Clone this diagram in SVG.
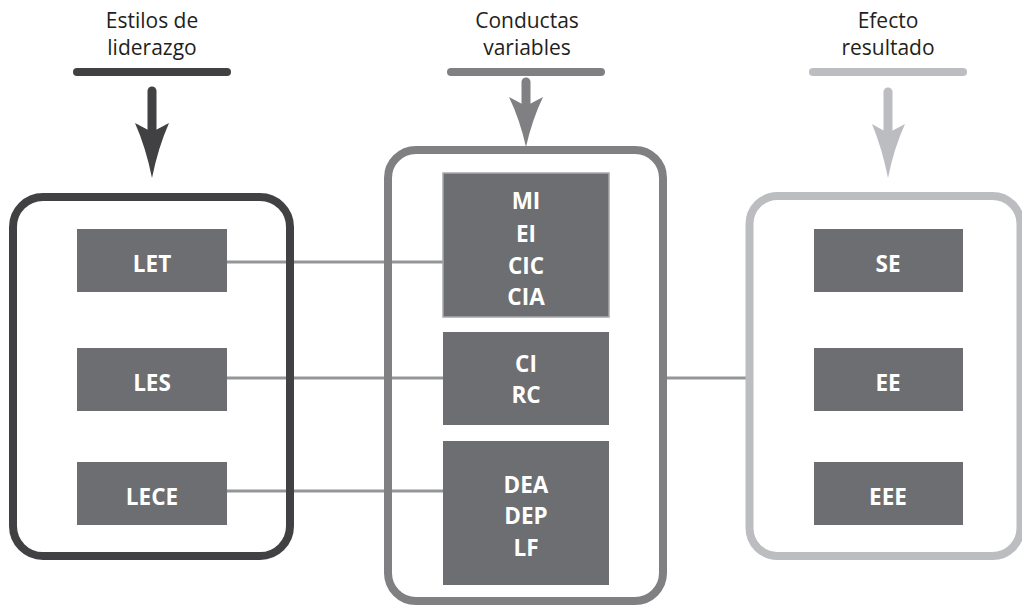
<svg xmlns="http://www.w3.org/2000/svg" width="1022" height="606" viewBox="0 0 1022 606">
<style>
.hdr{font-family:"Open Sans","Liberation Sans",sans-serif;font-size:21px;fill:#231f20;text-anchor:middle}
.lbl{font-family:"Open Sans","Liberation Sans",sans-serif;font-size:22.5px;font-weight:bold;fill:#ffffff;text-anchor:middle}
.box{fill:#6d6e71}
.conn{stroke:#939598;stroke-width:3;fill:none}
.cont{fill:none;stroke-width:8}
</style>
<rect width="1022" height="606" fill="#ffffff"/>
<g id="connectors">
<line class="conn" x1="226" y1="262" x2="444" y2="262"/>
<line class="conn" x1="226" y1="378" x2="444" y2="378"/>
<line class="conn" x1="226" y1="491" x2="444" y2="491"/>
<line class="conn" x1="663" y1="378" x2="749" y2="378"/>
</g>
<g id="col-estilos">
<text class="hdr" x="152" y="28">Estilos de</text>
<text class="hdr" x="152" y="55">liderazgo</text>
<line x1="77" y1="72" x2="227" y2="72" stroke="#414042" stroke-width="8" stroke-linecap="round"/>
<line x1="152" y1="91" x2="152" y2="132" stroke="#414042" stroke-width="9" stroke-linecap="round"/>
<path d="M152,132 L135,123 Q146,148 152,178 Q158,148 169,123 Z" fill="#414042"/>
<rect class="cont" x="13" y="197" width="277" height="359" rx="30" stroke="#414042"/>
</g>
<g id="col-conductas">
<text class="hdr" x="527" y="28">Conductas</text>
<text class="hdr" x="527" y="55">variables</text>
<line x1="451" y1="72" x2="601" y2="72" stroke="#808083" stroke-width="8" stroke-linecap="round"/>
<line x1="526" y1="82" x2="526" y2="106" stroke="#808083" stroke-width="9" stroke-linecap="round"/>
<path d="M526,106 L509,97 Q520,120 526,147 Q532,120 543,97 Z" fill="#808083"/>
<rect class="cont" x="388" y="150" width="275" height="451" rx="28" stroke="#808083"/>
</g>
<g id="col-efecto">
<text class="hdr" x="888" y="28">Efecto</text>
<text class="hdr" x="888" y="55">resultado</text>
<line x1="813" y1="72" x2="963" y2="72" stroke="#bcbdc0" stroke-width="8" stroke-linecap="round"/>
<line x1="888" y1="92" x2="888" y2="133" stroke="#bcbdc0" stroke-width="9" stroke-linecap="round"/>
<path d="M888,133 L872,124 Q882,148 888,178 Q894,148 905,124 Z" fill="#bcbdc0"/>
<rect class="cont" x="749.5" y="196" width="271" height="360" rx="28" stroke="#bcbdc0"/>
</g>
<g id="node-LET"><rect class="box" x="77" y="229" width="150" height="63"/><text class="lbl" x="152" y="272">LET</text></g>
<g id="node-LES"><rect class="box" x="77" y="348" width="150" height="63"/><text class="lbl" x="152" y="391">LES</text></g>
<g id="node-LECE"><rect class="box" x="77" y="462" width="150" height="63"/><text class="lbl" x="152" y="505">LECE</text></g>
<g id="node-MI"><rect class="box" x="443" y="173" width="166" height="144" stroke="#a7a9ac" stroke-width="1.5"/>
<text class="lbl" x="526" y="209">MI</text><text class="lbl" x="526" y="242">EI</text><text class="lbl" x="526" y="274">CIC</text><text class="lbl" x="526" y="305">CIA</text></g>
<g id="node-CI"><rect class="box" x="443" y="332" width="166" height="93"/>
<text class="lbl" x="526" y="372">CI</text><text class="lbl" x="526" y="403">RC</text></g>
<g id="node-DEA"><rect class="box" x="443" y="441" width="166" height="144"/>
<text class="lbl" x="526" y="493">DEA</text><text class="lbl" x="526" y="524">DEP</text><text class="lbl" x="526" y="556">LF</text></g>
<g id="node-SE"><rect class="box" x="814" y="229" width="149" height="63"/><text class="lbl" x="888" y="272">SE</text></g>
<g id="node-EE"><rect class="box" x="814" y="348" width="149" height="63"/><text class="lbl" x="888" y="391">EE</text></g>
<g id="node-EEE"><rect class="box" x="814" y="462" width="149" height="63"/><text class="lbl" x="888" y="505">EEE</text></g>
</svg>
